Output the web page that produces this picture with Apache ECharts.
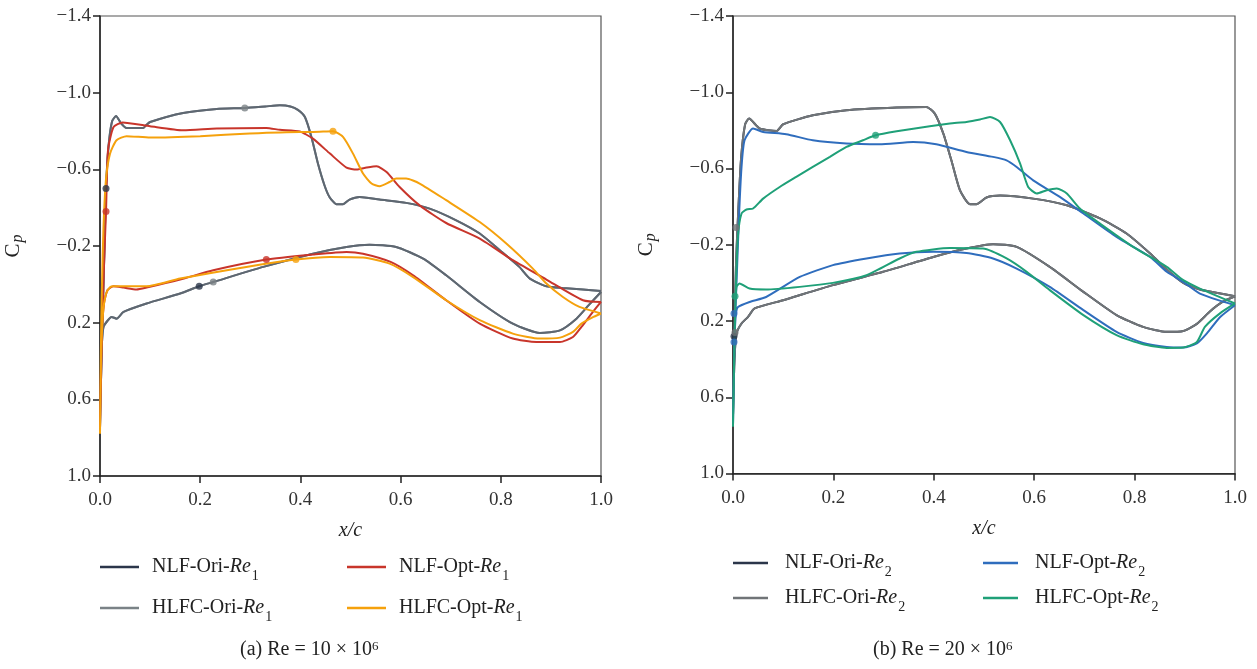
<!DOCTYPE html>
<html>
<head>
<meta charset="utf-8">
<title>Cp distributions</title>
<script src="https://cdn.jsdelivr.net/npm/echarts@6/dist/echarts.min.js"></script>
<style>
  html, body { margin: 0; padding: 0; background: #fff; }
  #chart { width: 1257px; height: 669px; }
</style>
</head>
<body>
<div id="chart"></div>
<script>
// Axis ticks (shared by both panels)
const xTicks = [0, 0.2, 0.4, 0.6, 0.8, 1.0];
const cpTicks = [-1.4, -1.0, -0.6, -0.2, 0.2, 0.6, 1.0];

// ---- (a) Re = 10e6 : [x/c, Cp], upper surface TE -> LE, then lower surface LE -> TE
const oriA = [
  [1.0, 0.035], [0.964, 0.027], [0.924, 0.019], [0.891, 0.01], [0.858, -0.03], [0.837, -0.091],
  [0.798, -0.178], [0.758, -0.265], [0.711, -0.334], [0.658, -0.395], [0.611, -0.425], [0.558, -0.442],
  [0.518, -0.456], [0.498, -0.442], [0.485, -0.418], [0.472, -0.418], [0.458, -0.456], [0.448, -0.517],
  [0.435, -0.63], [0.422, -0.769], [0.409, -0.873], [0.395, -0.91], [0.38, -0.928], [0.359, -0.934],
  [0.33, -0.928], [0.289, -0.92], [0.233, -0.915], [0.166, -0.894], [0.10, -0.847], [0.092, -0.83],
  [0.086, -0.816], [0.053, -0.816], [0.042, -0.84], [0.032, -0.878], [0.024, -0.85], [0.017, -0.72],
  [0.012, -0.5], [0.009, -0.2], [0.005, 0.2], [0.002, 0.5], [0.0, 0.75],
  [0.002, 0.45], [0.004, 0.3], [0.007, 0.222], [0.015, 0.19], [0.023, 0.17], [0.033, 0.179],
  [0.047, 0.144], [0.093, 0.10], [0.16, 0.048], [0.198, 0.010], [0.226, -0.012], [0.326, -0.091],
  [0.425, -0.16], [0.492, -0.195], [0.538, -0.207], [0.591, -0.195], [0.645, -0.134], [0.691, -0.047],
  [0.758, 0.092], [0.824, 0.205], [0.878, 0.254], [0.918, 0.24], [0.951, 0.179], [0.975, 0.11], [1.0, 0.04]
];
const nlfOptA = [
  [1.0, 0.092], [0.964, 0.083], [0.891, -0.025], [0.824, -0.126], [0.758, -0.239], [0.691, -0.32],
  [0.638, -0.412], [0.598, -0.508], [0.572, -0.586], [0.552, -0.616], [0.532, -0.609], [0.512, -0.599],
  [0.492, -0.609], [0.459, -0.682], [0.425, -0.76], [0.399, -0.797], [0.359, -0.806], [0.332, -0.816],
  [0.233, -0.813], [0.166, -0.804], [0.10, -0.825], [0.045, -0.845], [0.027, -0.821], [0.016, -0.70],
  [0.012, -0.38], [0.008, -0.1], [0.004, 0.25], [0.0, 0.75],
  [0.003, 0.3], [0.008, 0.1], [0.015, 0.03], [0.027, 0.01], [0.047, 0.017], [0.073, 0.027],
  [0.093, 0.017], [0.16, -0.025], [0.226, -0.073], [0.332, -0.129], [0.425, -0.155], [0.492, -0.169],
  [0.525, -0.16], [0.58, -0.117], [0.625, -0.047], [0.691, 0.083], [0.758, 0.205], [0.824, 0.283],
  [0.871, 0.301], [0.918, 0.301], [0.944, 0.275], [0.961, 0.222], [0.985, 0.14], [1.0, 0.092]
];
const hlfcOptA = [
  [1.0, 0.152], [0.957, 0.118], [0.924, 0.066], [0.891, -0.004], [0.864, -0.082], [0.811, -0.213],
  [0.758, -0.325], [0.691, -0.439], [0.638, -0.526], [0.611, -0.552], [0.591, -0.552], [0.578, -0.534],
  [0.558, -0.512], [0.542, -0.526], [0.525, -0.578], [0.505, -0.682], [0.485, -0.769], [0.465, -0.799],
  [0.425, -0.795], [0.399, -0.795], [0.299, -0.787], [0.20, -0.773], [0.10, -0.766], [0.053, -0.773],
  [0.033, -0.752], [0.02, -0.682], [0.012, -0.55], [0.007, -0.3], [0.004, 0.0], [0.002, 0.3], [0.0, 0.78],
  [0.002, 0.4], [0.006, 0.15], [0.012, 0.05], [0.02, 0.015], [0.027, 0.01], [0.093, 0.01],
  [0.16, -0.03], [0.292, -0.091], [0.391, -0.129], [0.459, -0.143], [0.525, -0.14], [0.578, -0.108],
  [0.625, -0.038], [0.691, 0.083], [0.758, 0.187], [0.824, 0.257], [0.878, 0.283], [0.918, 0.278],
  [0.944, 0.248], [0.961, 0.205], [0.985, 0.17], [1.0, 0.152]
];
// transition markers (a)
const nlfOriDotsA = [[0.012, -0.5], [0.198, 0.010]];
const hlfcOriDotsA = [[0.289, -0.92], [0.226, -0.012]];
const nlfOptDotsA = [[0.012, -0.38], [0.332, -0.129]];
const hlfcOptDotsA = [[0.465, -0.799], [0.391, -0.129]];

// ---- (b) Re = 20e6
const oriB = [
  [1.0, 0.07], [0.96, 0.05], [0.93, 0.035], [0.897, 0.0], [0.864, -0.07], [0.831, -0.154],
  [0.784, -0.259], [0.731, -0.338], [0.665, -0.407], [0.598, -0.442], [0.532, -0.458], [0.505, -0.448],
  [0.485, -0.413], [0.472, -0.413], [0.452, -0.486], [0.435, -0.643], [0.419, -0.783], [0.402, -0.888],
  [0.385, -0.923], [0.326, -0.92], [0.226, -0.906], [0.159, -0.879], [0.10, -0.832], [0.087, -0.797],
  [0.053, -0.81], [0.032, -0.862], [0.024, -0.83], [0.016, -0.65], [0.01, -0.35], [0.006, -0.1],
  [0.003, 0.25], [0.0, 0.7],
  [0.003, 0.4], [0.007, 0.265], [0.017, 0.213], [0.03, 0.178], [0.043, 0.134], [0.10, 0.091],
  [0.199, 0.012], [0.299, -0.058], [0.399, -0.136], [0.465, -0.18], [0.518, -0.203], [0.565, -0.189],
  [0.631, -0.084], [0.698, 0.047], [0.764, 0.169], [0.817, 0.231], [0.864, 0.257], [0.897, 0.252],
  [0.924, 0.215], [0.95, 0.15], [0.975, 0.1], [1.0, 0.07]
];
const nlfOptB = [
  [1.0, 0.117], [0.93, 0.056], [0.897, -0.005], [0.864, -0.058], [0.831, -0.136], [0.764, -0.241],
  [0.698, -0.364], [0.651, -0.451], [0.598, -0.538], [0.565, -0.608], [0.545, -0.643], [0.518, -0.661],
  [0.465, -0.687], [0.405, -0.727], [0.359, -0.739], [0.292, -0.727], [0.226, -0.731], [0.159, -0.748],
  [0.106, -0.78], [0.06, -0.792], [0.04, -0.81], [0.023, -0.748], [0.017, -0.608], [0.012, -0.35],
  [0.007, 0.0], [0.003, 0.3], [0.0, 0.75],
  [0.003, 0.3], [0.006, 0.16], [0.01, 0.126], [0.033, 0.1], [0.066, 0.074], [0.133, -0.031],
  [0.199, -0.093], [0.266, -0.128], [0.332, -0.154], [0.399, -0.163], [0.465, -0.157], [0.518, -0.128],
  [0.565, -0.075], [0.631, 0.021], [0.698, 0.143], [0.764, 0.257], [0.817, 0.315], [0.864, 0.336],
  [0.897, 0.339], [0.924, 0.318], [0.944, 0.265], [0.97, 0.18], [1.0, 0.117]
];
const hlfcOptB = [
  [1.0, 0.108], [0.93, 0.03], [0.897, -0.014], [0.864, -0.084], [0.797, -0.189], [0.731, -0.311],
  [0.691, -0.39], [0.665, -0.469], [0.645, -0.495], [0.625, -0.486], [0.605, -0.469], [0.588, -0.503],
  [0.572, -0.626], [0.552, -0.748], [0.532, -0.844], [0.512, -0.87], [0.492, -0.857], [0.465, -0.844],
  [0.432, -0.836], [0.392, -0.822], [0.326, -0.795], [0.284, -0.774], [0.259, -0.748], [0.226, -0.713],
  [0.193, -0.661], [0.159, -0.608], [0.126, -0.556], [0.093, -0.503], [0.06, -0.442], [0.04, -0.39],
  [0.027, -0.385], [0.017, -0.364], [0.01, -0.25], [0.006, 0.0], [0.003, 0.3], [0.0, 0.755],
  [0.003, 0.3], [0.005, 0.1], [0.007, 0.021], [0.013, 0.003], [0.033, 0.03], [0.066, 0.035],
  [0.133, 0.021], [0.199, 0.0], [0.266, -0.04], [0.332, -0.128], [0.365, -0.163], [0.432, -0.183],
  [0.498, -0.18], [0.545, -0.128], [0.585, -0.058], [0.631, 0.038], [0.698, 0.169], [0.764, 0.274],
  [0.817, 0.322], [0.864, 0.341], [0.897, 0.339], [0.924, 0.31], [0.94, 0.231], [0.97, 0.16], [1.0, 0.108]
];
// transition markers (b)
const nlfOriDotsB = [[0.002, 0.28]];
const hlfcOriDotsB = [[0.006, -0.29], [0.004, 0.26]];
const nlfOptDotsB = [[0.002, 0.16], [0.002, 0.31]];
const hlfcOptDotsB = [[0.284, -0.774], [0.004, 0.07]];

const FONT = 'Liberation Serif';
const colors = {
  nlfOri: '#2b364a',
  hlfcOriA: '#7a8286',
  hlfcOriB: '#707477',
  nlfOpt: '#c8352b',
  hlfcOpt: '#f5a10c',
  nlfOptB: '#2f6dbd',
  hlfcOptB: '#1fa078'
};

const chart = echarts.init(document.getElementById('chart'), null, { renderer: 'canvas' });

function fmtCp(v) {
  return (v < 0 ? '\u2212' : '') + Math.abs(v).toFixed(1);
}

function makeX(gridIndex) {
  return {
    type: 'value', gridIndex, min: 0, max: 1, interval: 0.2,
    name: 'x/c', nameLocation: 'middle', nameGap: 45,
    nameTextStyle: { fontFamily: FONT, fontStyle: 'italic', fontSize: 20, color: '#222' },
    axisLine: { onZero: false, lineStyle: { color: '#222', width: 1.5 } },
    axisTick: { inside: false, length: 7, lineStyle: { color: '#222', width: 1.5 }, customValues: xTicks },
    axisLabel: { fontFamily: FONT, fontSize: 19, color: '#333', margin: 15,
      customValues: xTicks, formatter: v => v.toFixed(1) },
    splitLine: { show: false }
  };
}
function makeY(gridIndex) {
  return {
    type: 'value', gridIndex, inverse: true, min: -1.4, max: 1.0, interval: 0.4,
    name: '{c|C}{p|p}', nameLocation: 'middle', nameGap: 72, nameRotate: 90,
    nameTextStyle: {
      fontFamily: FONT, color: '#222',
      rich: {
        c: { fontFamily: FONT, fontSize: 21, color: '#222', lineHeight: 30, verticalAlign: 'middle' },
        p: { fontFamily: FONT, fontSize: 16, fontStyle: 'italic', color: '#222', lineHeight: 30,
             verticalAlign: 'bottom', padding: [0, 0, 2, 1] }
      }
    },
    axisLine: { onZero: false, lineStyle: { color: '#222', width: 1.5 } },
    axisTick: { inside: false, length: 7, lineStyle: { color: '#222', width: 1.5 }, customValues: cpTicks },
    axisLabel: { fontFamily: FONT, fontSize: 19, color: '#333', margin: 9,
      customValues: cpTicks, formatter: fmtCp },
    splitLine: { show: false }
  };
}

function curve(name, data, color, idx, extra) {
  return Object.assign({
    name, type: 'line', data, xAxisIndex: idx, yAxisIndex: idx,
    showSymbol: false, symbol: 'none', smooth: 0.2, clip: true,
    color, lineStyle: { color, width: 2 }, itemStyle: { color },
    emphasis: { disabled: true }, silent: true, z: 3
  }, extra || {});
}
function dots(name, data, color, idx) {
  return {
    name, type: 'scatter', data, xAxisIndex: idx, yAxisIndex: idx,
    symbol: 'circle', symbolSize: 7, itemStyle: { color }, silent: true, z: 5
  };
}

const legendText = {
  fontFamily: FONT, fontSize: 20, color: '#222', lineHeight: 26, padding: [0, 0, 0, 8],
  rich: {
    i: { fontFamily: FONT, fontSize: 20, fontStyle: 'italic', color: '#222', lineHeight: 26 },
    s: { fontFamily: FONT, fontSize: 14, color: '#222', lineHeight: 26, verticalAlign: 'bottom', padding: [0, 0, -3, 1] }
  }
};
function legendFmt(name) {
  return name.replace(/Re(\d)$/, '{i|Re}{s|$1}');
}
function legend(name, left, top, w, pad) {
  const ts = Object.assign({}, legendText, { padding: [0, 0, 0, pad] });
  return {
    data: [name], left, top, padding: 0, itemWidth: w, itemHeight: 2.5, icon: 'rect',
    selectedMode: false, formatter: legendFmt, textStyle: ts
  };
}

const capStyle = {
  fontFamily: FONT, fontSize: 20, fill: '#222',
  rich: { sup: { fontFamily: FONT, fontSize: 13, fill: '#222', verticalAlign: 'top', lineHeight: 14 } }
};

const option = {
  backgroundColor: '#fff',
  animation: false,
  grid: [
    { left: 100, top: 16, width: 501, height: 460, show: true, borderColor: '#555', borderWidth: 1.2, backgroundColor: 'transparent' },
    { left: 733, top: 16, width: 502, height: 457.5, show: true, borderColor: '#555', borderWidth: 1.2, backgroundColor: 'transparent' }
  ],
  xAxis: [makeX(0), makeX(1)],
  yAxis: [makeY(0), makeY(1)],
  legend: [
    legend('NLF-Ori-Re1', 100, 554, 39, 8),
    legend('NLF-Opt-Re1', 347, 554, 39, 8),
    legend('HLFC-Ori-Re1', 100, 595, 39, 8),
    legend('HLFC-Opt-Re1', 347, 595, 39, 8),
    legend('NLF-Ori-Re2', 733, 550, 35, 12),
    legend('NLF-Opt-Re2', 983, 550, 35, 12),
    legend('HLFC-Ori-Re2', 733, 585, 35, 12),
    legend('HLFC-Opt-Re2', 983, 585, 35, 12)
  ],
  graphic: [
    { type: 'text', left: 240, top: 640, style: Object.assign({ text: '(a) Re = 10 \u00d7 10{sup|6}' }, capStyle) },
    { type: 'text', left: 873, top: 640, style: Object.assign({ text: '(b) Re = 20 \u00d7 10{sup|6}' }, capStyle) }
  ],
  series: [
    // (a)
    curve('NLF-Ori-Re1', oriA, colors.nlfOri, 0, { z: 2 }),
    curve('HLFC-Ori-Re1', oriA, colors.hlfcOriA, 0, { z: 3, lineStyle: { color: colors.hlfcOriA, width: 2, opacity: 0.65 } }),
    curve('NLF-Opt-Re1', nlfOptA, colors.nlfOpt, 0, { z: 4 }),
    curve('HLFC-Opt-Re1', hlfcOptA, colors.hlfcOpt, 0, { z: 4 }),
    dots('NLF-Ori-Re1 tr', nlfOriDotsA, colors.nlfOri, 0),
    dots('HLFC-Ori-Re1 tr', hlfcOriDotsA, colors.hlfcOriA, 0),
    dots('NLF-Opt-Re1 tr', nlfOptDotsA, colors.nlfOpt, 0),
    dots('HLFC-Opt-Re1 tr', hlfcOptDotsA, colors.hlfcOpt, 0),
    // (b)
    curve('NLF-Ori-Re2', oriB, colors.nlfOri, 1, { z: 2 }),
    curve('HLFC-Ori-Re2', oriB, colors.hlfcOriB, 1, { z: 3 }),
    curve('NLF-Opt-Re2', nlfOptB, colors.nlfOptB, 1, { z: 4 }),
    curve('HLFC-Opt-Re2', hlfcOptB, colors.hlfcOptB, 1, { z: 4 }),
    dots('NLF-Ori-Re2 tr', nlfOriDotsB, colors.nlfOri, 1),
    dots('HLFC-Ori-Re2 tr', hlfcOriDotsB, colors.hlfcOriB, 1),
    dots('NLF-Opt-Re2 tr', nlfOptDotsB, colors.nlfOptB, 1),
    dots('HLFC-Opt-Re2 tr', hlfcOptDotsB, colors.hlfcOptB, 1)
  ]
};

chart.setOption(option);
</script>
</body>
</html>
